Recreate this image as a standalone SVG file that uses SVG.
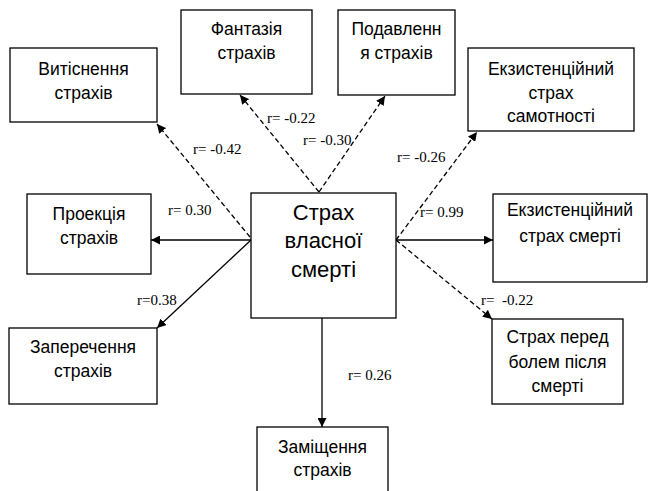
<svg xmlns="http://www.w3.org/2000/svg" width="649" height="491" viewBox="0 0 649 491">
<defs>
<marker id="ah" viewBox="0 0 10 10" refX="10" refY="5" markerWidth="9" markerHeight="9" markerUnits="userSpaceOnUse" orient="auto">
<path d="M0,0 L10,5 L0,10 z" fill="#000"/>
</marker>
<style>
.box{fill:#fff;stroke:#000;stroke-width:1.3}
.t{font-family:"Liberation Sans",Arial,sans-serif;font-size:17.5px;fill:#000;text-anchor:middle}
.c{font-family:"Liberation Sans",Arial,sans-serif;font-size:22px;fill:#000;text-anchor:middle}
.l{font-family:"Liberation Serif","Times New Roman",serif;font-size:15px;fill:#000}
.s{fill:none;stroke:#000;stroke-width:1.3;marker-end:url(#ah)}
.d{fill:none;stroke:#000;stroke-width:1.3;stroke-dasharray:5 3;marker-end:url(#ah)}
</style>
</defs>
<rect width="649" height="491" fill="#fff"/>
<g id="connectors">
<line class="d" x1="250" y1="237" x2="157" y2="124"/>
<line class="d" x1="319" y1="192" x2="240" y2="95"/>
<line class="d" x1="319" y1="192" x2="385" y2="96"/>
<line class="d" x1="396" y1="240" x2="477" y2="132"/>
<line class="d" x1="396" y1="240" x2="492" y2="319"/>
<line class="s" x1="251" y1="240" x2="151" y2="240"/>
<line class="s" x1="396" y1="240" x2="493" y2="240"/>
<line class="s" x1="251" y1="240" x2="157" y2="328"/>
<line class="s" x1="322" y1="318" x2="322" y2="427"/>
</g>
<g id="labels">
<text class="l" x="193" y="154">r= -0.42</text>
<text class="l" x="267" y="123">r= -0.22</text>
<text class="l" x="303" y="145">r= -0.30</text>
<text class="l" x="397" y="162">r= -0.26</text>
<text class="l" x="420" y="217">r= 0.99</text>
<text class="l" x="168" y="215">r= 0.30</text>
<text class="l" x="137" y="305">r=0.38</text>
<text class="l" x="348" y="380">r= 0.26</text>
<text class="l" x="481" y="305" xml:space="preserve">r=  -0.22</text>
</g>
<g id="center">
<rect class="box" x="251" y="193" width="145" height="125"/>
<text class="c" x="323.5" y="220">Страх</text>
<text class="c" x="323.5" y="248">власної</text>
<text class="c" x="323.5" y="277">смерті</text>
</g>
<g id="vytisnennia">
<rect class="box" x="10" y="48" width="147" height="74"/>
<text class="t" x="83.5" y="75">Витіснення</text>
<text class="t" x="83.5" y="99">страхів</text>
</g>
<g id="fantaziia">
<rect class="box" x="181" y="10" width="131" height="84"/>
<text class="t" x="246.5" y="35">Фантазія</text>
<text class="t" x="246.5" y="59">страхів</text>
</g>
<g id="podavlennia">
<rect class="box" x="338" y="10" width="117" height="85"/>
<text class="t" x="396.5" y="35">Подавленн</text>
<text class="t" x="396.5" y="59">я страхів</text>
</g>
<g id="samotnosti">
<rect class="box" x="468" y="48" width="166" height="83"/>
<text class="t" x="551" y="75">Екзистенційний</text>
<text class="t" x="551" y="99">страх</text>
<text class="t" x="551" y="122">самотності</text>
</g>
<g id="proektsiia">
<rect class="box" x="27" y="194" width="124" height="80"/>
<text class="t" x="89" y="220">Проекція</text>
<text class="t" x="89" y="244">страхів</text>
</g>
<g id="smerti">
<rect class="box" x="493" y="194" width="154" height="88"/>
<text class="t" x="570" y="216">Екзистенційний</text>
<text class="t" x="570" y="242">страх смерті</text>
</g>
<g id="zaperechennia">
<rect class="box" x="9" y="328" width="148" height="76"/>
<text class="t" x="83" y="353">Заперечення</text>
<text class="t" x="83" y="377">страхів</text>
</g>
<g id="bolem">
<rect class="box" x="492" y="319" width="131" height="85"/>
<text class="t" x="557.5" y="343">Страх перед</text>
<text class="t" x="557.5" y="368">болем після</text>
<text class="t" x="557.5" y="392">смерті</text>
</g>
<g id="zamishchennia">
<rect class="box" x="257" y="427" width="131" height="80"/>
<text class="t" x="322.5" y="453">Заміщення</text>
<text class="t" x="322.5" y="476">страхів</text>
</g>
</svg>
